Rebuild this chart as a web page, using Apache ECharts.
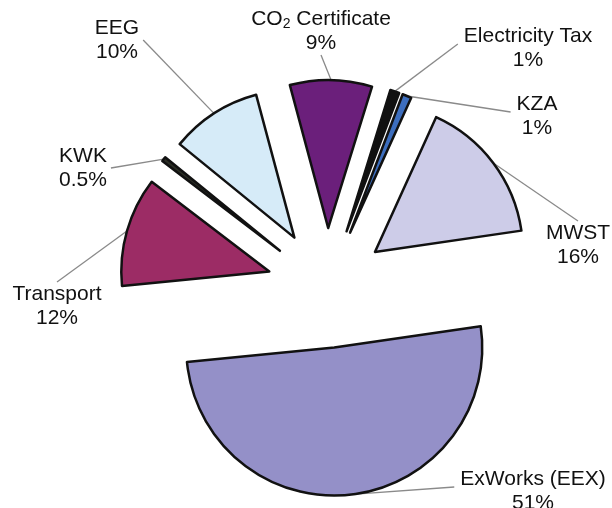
<!DOCTYPE html>
<html>
<head>
<meta charset="utf-8">
<script src="https://cdn.jsdelivr.net/npm/echarts@6/dist/echarts.min.js"></script>
<style>
  html, body { margin: 0; padding: 0; background: #fff; }
  #chart { width: 612px; height: 508px; }
</style>
</head>
<body>
<div id="chart"></div>
<script>
// cost shares, clockwise from the top
const categories = ['CO2 Certificate', 'Electricity Tax', 'KZA', 'MWST', 'ExWorks (EEX)', 'Transport', 'KWK', 'EEG'];
const shares = [9, 1, 1, 16, 51, 12, 0.5, 10];

const sliceColors = ['#6b1f7b', '#111111', '#3d6ebe', '#cdcce8', '#9490c8', '#9c2c65', '#2b2e25', '#d6ebf8'];
// centre of each label block, and the side of the block its leader line runs to
const labelSpots = [[321, 31], [528, 48], [537, 116], [578, 245], [533, 491], [57, 306], [83, 168], [117, 40]];
const lineSides = ['bottom', 'left', 'left', 'top', 'left', 'top', 'right', 'right'];

const CENTER = [327, 288];
const RADIUS = 148;
const EXPLODE = 60;
const START = 105;
const FONT = 'Liberation Sans, Arial, sans-serif';

const chart = echarts.init(document.getElementById('chart'));

function leaderEnd(side, x, y, w, h) {
    if (side === 'bottom') return [x, y + h / 2];
    if (side === 'top') return [x, y - h / 2];
    if (side === 'left') return [x - w / 2 - 6, y - 4];
    return [x + w / 2 + 4, y];
}

const option = {
    animation: false,
    backgroundColor: '#fff',
    series: [
        // exploded slices
        {
            type: 'pie',
            center: CENTER,
            radius: RADIUS,
            startAngle: START,
            clockwise: true,
            selectedMode: 'multiple',
            selectedOffset: EXPLODE,
            silent: true,
            z: 2,
            itemStyle: { borderColor: '#111', borderWidth: 2.5 },
            label: { show: false },
            labelLine: { show: false },
            data: categories.map((name, i) => ({
                name: name,
                value: shares[i],
                selected: true,
                itemStyle: { color: sliceColors[i] }
            }))
        },
        // invisible ring reaching the outer edge of the exploded slices, carries the labels
        {
            type: 'pie',
            center: CENTER,
            radius: RADIUS + EXPLODE,
            startAngle: START,
            clockwise: true,
            silent: true,
            z: 1,
            avoidLabelOverlap: false,
            itemStyle: { color: 'rgba(0,0,0,0)', borderWidth: 0 },
            label: {
                position: 'outside',
                fontFamily: FONT,
                fontSize: 21,
                lineHeight: 24,
                color: '#111',
                align: 'center',
                formatter: p => {
                    const name = p.name === 'CO2 Certificate' ? 'CO{sub|2} Certificate' : p.name;
                    return name + '\n' + p.value + '%';
                },
                rich: {
                    sub: { fontSize: 14, lineHeight: 14, verticalAlign: 'bottom', color: '#111', fontFamily: FONT }
                }
            },
            labelLine: {
                show: true,
                length: 5,
                length2: 0,
                lineStyle: { color: '#8a8a8a', width: 1.3 }
            },
            labelLayout: params => {
                const i = params.dataIndex;
                const x = labelSpots[i][0];
                const y = labelSpots[i][1];
                const out = { x: x, y: y, align: 'center', verticalAlign: 'middle' };
                const pts = params.labelLinePoints;
                if (pts && pts.length) {
                    out.labelLinePoints = [pts[0], leaderEnd(lineSides[i], x, y, params.labelRect.width, params.labelRect.height)];
                }
                return out;
            },
            data: categories.map((name, i) => ({ name: name, value: shares[i] }))
        }
    ]
};

chart.setOption(option);
</script>
</body>
</html>
